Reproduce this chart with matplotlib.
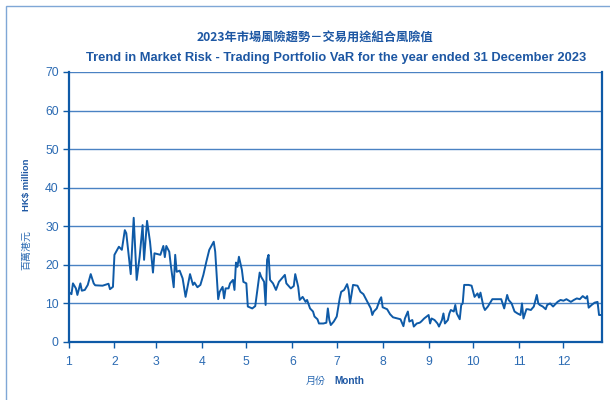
import numpy as np
import pandas as pd
import matplotlib
matplotlib.use("Agg")
from matplotlib import pyplot as plt
from matplotlib.patches import Rectangle

# days since 1 Jan 2023 and trading VaR (HK$ million)
day = [0, 2, 3, 5, 6, 8, 9, 11, 13, 15, 17, 18, 23, 27, 28, 30,
       31, 34, 36, 38, 39, 42, 44, 46, 48, 50, 51, 53, 55, 57, 58,
       62, 64, 65, 66, 68, 69, 71, 72, 73, 75, 77, 79, 81, 82, 84,
       85, 87, 89, 91, 93, 95, 98, 99, 101, 102, 104, 105, 106, 108,
       109, 111, 112, 113, 114, 115, 117, 118, 120, 121, 124, 126,
       129, 130, 132, 133, 134, 135, 136, 138, 140, 142, 144, 146,
       147, 150, 152, 153, 155, 156, 158, 160, 161, 163, 165, 166,
       168, 169, 172, 174, 175, 176, 177, 179, 181, 183, 184, 186,
       188, 189, 190, 192, 195, 197, 199, 201, 204, 205, 206, 208,
       210, 211, 212, 215, 217, 219, 222, 224, 226, 227, 229, 230,
       232, 233, 235, 237, 238, 240, 243, 244, 245, 247, 249, 250,
       252, 253, 254, 256, 257, 258, 260, 261, 262, 264, 265, 266,
       267, 270, 272, 274, 276, 277, 278, 280, 281, 283, 286, 289,
       292, 294, 296, 297, 299, 301, 303, 305, 306, 307, 309, 310,
       312, 314, 316, 317, 318, 320, 322, 323, 325, 327, 330, 332,
       334, 336, 339, 341, 343, 345, 347, 349, 350, 351, 353, 355,
       357, 358, 359]
var = [13.0, 12.4, 15.2, 13.9, 12.2, 15.2, 13.3, 13.5, 14.8, 17.6,
       15.2, 14.7, 14.6, 15.1, 13.7, 14.3,
       22.6, 24.7, 23.9, 29.0, 28.2, 17.6, 32.2, 16.1, 22.1, 30.3,
       21.3, 31.4, 26.0, 18.0, 23.0,
       22.6, 24.9, 22.0, 24.9, 23.4, 20.0, 14.2, 22.6, 18.2, 18.5,
       16.5, 11.7, 15.6, 17.6, 14.8,
       15.4, 14.2, 14.8, 17.4, 20.8, 23.9, 26.0, 23.4, 11.1, 13.0,
       14.3, 11.3, 13.9, 13.9,
       15.2, 16.1, 13.5, 20.6, 19.5, 22.1, 18.7, 15.6, 15.2, 9.2,
       8.7, 9.3,
       18.0, 16.9, 15.6, 9.6, 21.3, 22.6, 16.1, 15.2, 13.5, 15.6,
       16.5, 17.4,
       15.2, 13.9, 14.5, 17.6, 14.3, 10.9, 11.7, 10.4, 10.9, 8.7,
       7.9, 6.6,
       5.9, 4.8, 4.8, 5.0, 8.7, 5.7, 4.4, 5.3, 6.6, 11.3, 13.0, 13.5,
       15.0, 13.5, 10.0, 14.8, 14.6, 13.0, 12.4, 10.9, 8.7, 7.0, 7.9,
       8.7,
       10.9, 11.6, 9.0, 8.5, 7.2, 6.4, 6.1, 5.9, 4.1, 6.1, 7.9, 5.3,
       5.7, 4.0, 4.8, 5.0, 5.3, 6.1, 7.0, 4.8, 6.1, 5.7, 4.8, 4.0,
       5.7, 7.4, 4.8, 5.7, 7.4, 8.3, 7.9, 9.6, 7.4, 5.9, 9.6, 10.0,
       14.8, 14.8, 14.6, 11.7, 12.6, 11.5, 12.8, 9.2, 8.3, 9.2, 11.1,
       11.1,
       11.1, 8.7, 12.2, 10.9, 10.0, 7.9, 7.4, 7.0, 10.0, 6.1, 8.5,
       8.5,
       8.3, 9.2, 12.2, 10.0, 9.6, 9.2, 8.5, 9.6, 10.0, 9.2, 10.4,
       10.9,
       10.7, 11.1, 10.4, 10.9, 11.3, 11.1, 11.9, 11.3, 11.9, 8.9, 9.6,
       10.2,
       10.4, 7.0, 7.0]

month_starts = pd.date_range("2023-01-01", periods=12, freq="MS")
month_labels = [str(m) for m in range(1, 13)]

title_zh = "2023年市場風險趨勢－交易用途組合風險值"
title_en = "Trend in Market Risk - Trading Portfolio VaR for the year ended 31 December 2023"

blue_line = "#0e5aa7"
blue_grid = "#4a82c3"
blue_text = "#2c6bb3"
blue_dark = "#1d57a3"

fig = plt.figure(figsize=(6.1, 4.0), dpi=100)
ax = fig.add_axes([68.5 / 610, 58 / 400, (602 - 68.5) / 610, 270 / 400])

# light frame round the whole chart
fig.patches.append(Rectangle((6 / 610, -0.1), 1.2, 1 - 6 / 400 + 0.1,
                             transform=fig.transFigure, fill=False,
                             edgecolor="#7fa7d6", linewidth=1.0))

ax.plot(day, var, color=blue_line, linewidth=1.4)

ax.set_xlim(0, 360)
ax.set_ylim(0, 70)
ax.set_yticks(range(0, 71, 10))
ax.set_xticks(month_starts.dayofyear - 1)
ax.set_xticklabels(month_labels)

ax.grid(axis="y", color=blue_grid, linewidth=1.0)
ax.set_axisbelow(True)
ax.spines["top"].set_visible(False)
for s in ["left", "bottom", "right"]:
    ax.spines[s].set_color(blue_line)
    ax.spines[s].set_linewidth(1.6)
ax.tick_params(colors=blue_line, labelcolor=blue_text, length=4, width=1.0,
               labelsize=8.8, pad=3)
for lab in ax.get_xticklabels() + ax.get_yticklabels():
    lab.set_family("Liberation Sans")
ax.tick_params(axis="x", pad=6)

fig.text(315 / 610, 1 - 38 / 400, title_zh, ha="center", va="center",
         family=["Noto Sans CJK TC"], fontsize=8.8, fontweight="bold",
         color=blue_dark)
fig.text(336.5 / 610, 1 - 57.5 / 400, title_en, ha="center", va="center",
         family=["Liberation Sans"], fontsize=9.3, fontweight="bold",
         color=blue_dark)

fig.text(26 / 610, 1 - 184.5 / 400, "HK$ million", rotation=90,
         ha="center", va="center", family=["Liberation Sans"],
         fontsize=6.8, fontweight="bold", color=blue_dark)
fig.text(26 / 610, 1 - 250 / 400, "百萬港元", rotation=90,
         ha="center", va="center", family=["Noto Sans CJK TC"],
         fontsize=7.2, color=blue_text)

fig.text(316 / 610, 1 - 381 / 400, "月份", ha="center", va="center",
         family=["Noto Sans CJK TC"], fontsize=7.2, color=blue_text)
fig.text(349.5 / 610, 1 - 381 / 400, "Month", ha="center", va="center",
         family=["Liberation Sans"], fontsize=7.2, fontweight="bold",
         color=blue_dark)

fig.savefig("out.png", dpi=100)
